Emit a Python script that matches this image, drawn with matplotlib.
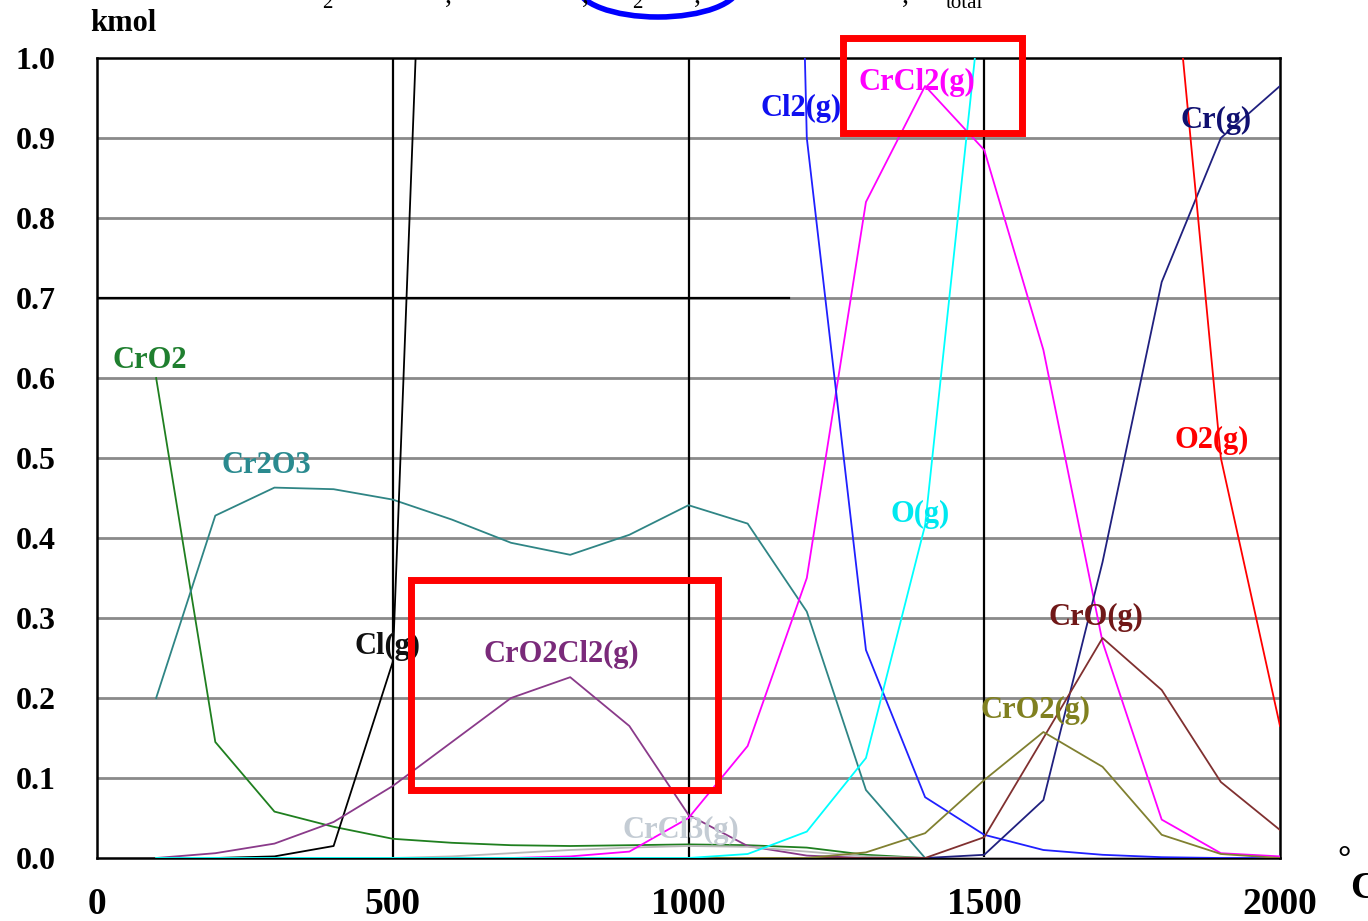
import numpy as np
import matplotlib.pyplot as plt
from matplotlib.patches import Rectangle, Ellipse

plt.rcParams['font.family'] = ['Liberation Serif', 'DejaVu Serif']

# temperature steps, deg C
temps = np.arange(100, 2001, 100)
nan = np.nan

# equilibrium amounts, kmol (nan = off the chart, not read)
cro2 = [0.60, 0.145, 0.058, 0.039, 0.024, 0.019, 0.016, 0.015, 0.016, 0.017,
        0.016, 0.013, 0.004, 0, 0, 0, 0, 0, 0, 0]
cr2o3 = [0.20, 0.428, 0.463, 0.461, 0.448, 0.423, 0.394, 0.379, 0.404, 0.441,
         0.418, 0.308, 0.085, 0, 0, 0, 0, 0, 0, 0]
cl_g = [0, 0, 0.002, 0.015, 0.245, 2.2, nan, nan, nan, nan,
        nan, nan, nan, nan, nan, nan, nan, nan, nan, nan]
cro2cl2 = [0, 0.006, 0.018, 0.045, 0.09, 0.145, 0.20, 0.226, 0.165, 0.054,
           0.015, 0.003, 0, 0, 0, 0, 0, 0, 0, 0]
crcl3 = [0, 0, 0, 0, 0, 0.002, 0.006, 0.010, 0.013, 0.015,
         0.014, 0.008, 0.002, 0, 0, 0, 0, 0, 0, 0]
crcl2 = [0, 0, 0, 0, 0, 0, 0, 0.002, 0.008, 0.05,
         0.14, 0.35, 0.82, 0.965, 0.885, 0.635, 0.27, 0.048, 0.006, 0.002]
cl2_g = [nan, nan, nan, nan, nan, nan, nan, nan, nan, nan,
         4.0, 0.9, 0.26, 0.076, 0.029, 0.01, 0.004, 0.001, 0, 0]
o_g = [0, 0, 0, 0, 0, 0, 0, 0, 0, 0,
       0.005, 0.033, 0.125, 0.416, 1.11, nan, nan, nan, nan, nan]
cr_g = [0, 0, 0, 0, 0, 0, 0, 0, 0, 0,
        0, 0, 0, 0, 0.004, 0.0725, 0.37, 0.72, 0.90, 0.965]
o2_g = [nan, nan, nan, nan, nan, nan, nan, nan, nan, nan,
        nan, nan, nan, nan, nan, nan, nan, 1.28, 0.50, 0.165]
cro_g = [0, 0, 0, 0, 0, 0, 0, 0, 0, 0,
         0, 0, 0, 0, 0.026, 0.15, 0.275, 0.21, 0.095, 0.035]
cro2_g = [0, 0, 0, 0, 0, 0, 0, 0, 0, 0,
          0, 0, 0.007, 0.031, 0.0975, 0.1575, 0.114, 0.029, 0.005, 0]

# (data, line colour, label, label text colour, label x, label y)
series = [
    (cro2, '#1f7f1f', 'CrO2', '#1f7f2f', 27, 0.622),
    (cr2o3, '#2f8585', 'Cr2O3', '#2a8a8f', 211, 0.491),
    (cl_g, '#000000', 'Cl(g)', '#101010', 436, 0.264),
    (cro2cl2, '#8a3a8a', 'CrO2Cl2(g)', '#7a2a7a', 653, 0.254),
    (crcl3, '#b8b8b8', 'CrCl3(g)', '#c4ccd4', 888, 0.035),
    (crcl2, '#ff00ff', 'CrCl2(g)', '#ff00ff', 1287, 0.97),
    (cl2_g, '#2020ff', 'Cl2(g)', '#1010f0', 1121, 0.937),
    (cr_g, '#20207f', 'Cr(g)', '#101070', 1831, 0.922),
    (o2_g, '#ff0000', 'O2(g)', '#ff0000', 1822, 0.522),
    (cro_g, '#803030', 'CrO(g)', '#701818', 1608, 0.301),
    (cro2_g, '#808030', 'CrO2(g)', '#808020', 1493, 0.185),
    (o_g, '#00ffff', 'O(g)', '#00e8f0', 1341, 0.429),
]

fig = plt.figure(figsize=(13.68, 9.21), dpi=100)
ax = fig.add_axes([97 / 1368, 63 / 921, 1183 / 1368, 800 / 921])

ax.set_xlim(0, 2000)
ax.set_ylim(0, 1.0)

# grid: grey horizontals, black verticals
for v in np.arange(0.1, 0.95, 0.1):
    ax.axhline(v, color='#8a8a8a', lw=2.0, zorder=1)
ax.plot([0, 1170], [0.7, 0.7], color='black', lw=1.6, zorder=1.5)
for t in [500, 1000, 1500]:
    ax.axvline(t, color='black', lw=1.6, zorder=1)

for vals, col, lab, tcol, lx, ly in series:
    ax.plot(temps, vals, color=col, lw=1.3, zorder=3)
    ax.text(lx, ly, lab, color=tcol, fontsize=22, fontweight='bold',
            ha='left', va='center', zorder=5)

# red highlight boxes
for x0, x1, y0, y1 in [(1261, 1564, 0.906, 1.025), (531, 1050, 0.085, 0.3475)]:
    ax.add_patch(Rectangle((x0, y0), x1 - x0, y1 - y0, fill=False,
                           ec='#ff0000', lw=5, clip_on=False, zorder=6))

ax.set_xticks([0, 500, 1000, 1500, 2000])
ax.set_xticklabels(['0', '500', '1000', '1500', '2000'],
                   fontsize=27, fontweight='bold')
ax.set_yticks(np.arange(0, 1.01, 0.1))
ax.set_yticklabels([f'{v:.1f}' for v in np.arange(0, 1.01, 0.1)],
                   fontsize=23, fontweight='bold')
ax.tick_params(length=0)
ax.tick_params(axis='x', pad=21)
ax.tick_params(axis='y', pad=30)
for s in ax.spines.values():
    s.set_linewidth(1.8)
    s.set_color('black')

# overlay in figure pixels for text outside the axes
ov = fig.add_axes([0, 0, 1, 1], zorder=10)
ov.set_xlim(0, 1368)
ov.set_ylim(921, 0)
ov.axis('off')
ov.patch.set_alpha(0)

ov.text(90, 31, 'kmol', fontsize=22, fontweight='bold', ha='left', va='baseline')
ov.text(1337, 868, '°', fontsize=24, fontweight='bold', ha='left', va='baseline')
ov.text(1350, 898, 'C', fontsize=27, fontweight='bold', ha='left', va='baseline')

# cut-off heading fragments at the top edge
for x, s, fs, y in [(322, '2', 15, 8), (445, ',', 20, 3), (582, ',', 20, 3),
                    (632, '2', 15, 8), (694, ',', 20, 3), (902, ',', 20, 3),
                    (946, 'total', 15, 8)]:
    ov.text(x, y, s, fontsize=fs, ha='left', va='baseline',
            family=['Liberation Serif'])
ov.add_patch(Ellipse((658, -14), 162, 62, fill=False, ec='#0000ff', lw=4))

fig.savefig('out.png', dpi=100)
